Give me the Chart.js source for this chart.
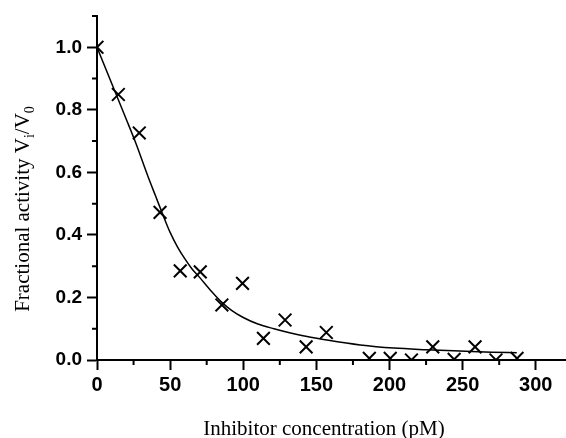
<!DOCTYPE html>
<html>
<head>
<meta charset="utf-8">
<script src="https://cdn.jsdelivr.net/npm/chart.js@4.4.1/dist/chart.umd.min.js"></script>
<style>
    html, body { margin: 0; padding: 0; background: #fff; overflow: hidden; }
    #wrap { width: 566px; height: 438px; position: relative; }
</style>
</head>
<body>
<div id="wrap"><canvas id="inhibitionChart"></canvas></div>
<script>
// Measured points (inhibitor concentration in pM, fractional activity)
const concentration = [0, 14.6, 28.9, 43.1, 56.9, 70.6, 85.4, 99.5, 113.8, 128.6, 143, 156.8, 186.2, 200.5, 215, 229.6, 244.2, 258.5, 272.8, 287.2];
const activity = [1.0, 0.849, 0.726, 0.472, 0.285, 0.282, 0.176, 0.245, 0.069, 0.128, 0.042, 0.088, 0.005, 0.005, 0.0, 0.042, 0.002, 0.042, 0.0, 0.005];

// Fitted curve
const fitX = [0, 10, 20, 26, 35, 40, 45, 50, 55, 60, 65, 70, 78, 85, 92, 100, 110, 121, 140, 157, 180, 203, 225, 248, 270, 287];
const fitY = [1.0, 0.885, 0.77, 0.70, 0.585, 0.525, 0.465, 0.408, 0.362, 0.324, 0.291, 0.265, 0.221, 0.186, 0.159, 0.136, 0.115, 0.100, 0.078, 0.064, 0.048, 0.038, 0.033, 0.029, 0.025, 0.023];

// Axis ticks
const xTicks = [0, 50, 100, 150, 200, 250, 300];
const yTicks = [0, 0.2, 0.4, 0.6, 0.8, 1.0];
const xMinor = [25, 75, 125, 175, 225, 275];
const yMinor = [0.1, 0.3, 0.5, 0.7, 0.9, 1.1];

const xTitle = 'Inhibitor concentration (pM)';
const yTitleParts = [['Fractional activity V', false], ['i', true], ['/V', false], ['0', true]];

// minor ticks + axis titles (y title needs subscripts)
const axisExtras = {
    id: 'axisExtras',
    afterDraw(chart) {
        const ctx = chart.ctx;
        const xs = chart.scales.x;
        const ys = chart.scales.y;
        const area = chart.chartArea;

        ctx.save();
        ctx.strokeStyle = '#000';
        ctx.lineWidth = 2;
        ctx.beginPath();
        xMinor.forEach(v => {
            const px = xs.getPixelForValue(v);
            ctx.moveTo(px, area.bottom);
            ctx.lineTo(px, area.bottom + 5);
        });
        yMinor.forEach(v => {
            const py = ys.getPixelForValue(v);
            ctx.moveTo(area.left, py);
            ctx.lineTo(area.left - 5, py);
        });
        ctx.stroke();

        ctx.fillStyle = '#000';
        ctx.textBaseline = 'alphabetic';
        ctx.font = '21px "Liberation Serif", "Times New Roman", serif';
        ctx.textAlign = 'center';
        ctx.fillText(xTitle, 324, 435);

        // y title, rotated
        const mainFont = '21px "Liberation Serif", "Times New Roman", serif';
        const subFont = '14px "Liberation Serif", "Times New Roman", serif';
        let total = 0;
        yTitleParts.forEach(([txt, sub]) => {
            ctx.font = sub ? subFont : mainFont;
            total += ctx.measureText(txt).width;
        });
        ctx.translate(29, 209);
        ctx.rotate(-Math.PI / 2);
        ctx.textAlign = 'left';
        let x = -total / 2;
        yTitleParts.forEach(([txt, sub]) => {
            ctx.font = sub ? subFont : mainFont;
            ctx.fillText(txt, x, sub ? 5 : 0);
            x += ctx.measureText(txt).width;
        });
        ctx.restore();
    }
};

const ctx = document.getElementById('inhibitionChart');

new Chart(ctx, {
    type: 'scatter',
    data: {
        datasets: [
            {
                label: 'Measured',
                data: concentration.map((c, i) => ({ x: c, y: activity[i] })),
                pointStyle: 'crossRot',
                pointRadius: 9,
                pointBorderWidth: 2,
                borderColor: '#000',
                backgroundColor: '#000',
                order: 1
            },
            {
                label: 'Fit',
                type: 'line',
                data: fitX.map((c, i) => ({ x: c, y: fitY[i] })),
                borderColor: '#000',
                borderWidth: 1.5,
                pointRadius: 0,
                fill: false,
                cubicInterpolationMode: 'monotone',
                order: 2
            }
        ]
    },
    options: {
        responsive: true,
        maintainAspectRatio: false,
        animation: false,
        layout: {
            autoPadding: false,
            padding: { top: 16, right: 1, bottom: 0, left: 0 }
        },
        plugins: {
            legend: { display: false },
            tooltip: { enabled: false }
        },
        scales: {
            x: {
                type: 'linear',
                min: 0,
                max: 320,
                afterBuildTicks: scale => {
                    scale.ticks = xTicks.map(v => ({ value: v }));
                },
                afterFit: scale => {
                    scale.height = 78;
                    scale.paddingLeft = 0;
                    scale.paddingRight = 0;
                },
                grid: {
                    drawOnChartArea: false,
                    drawTicks: true,
                    tickLength: 10,
                    tickWidth: 2,
                    tickColor: '#000'
                },
                border: { color: '#000', width: 2 },
                ticks: {
                    color: '#000',
                    padding: 3,
                    maxRotation: 0,
                    font: { family: '"Liberation Sans", Arial, sans-serif', size: 20, weight: 'bold' },
                    callback: value => String(value)
                }
            },
            y: {
                type: 'linear',
                min: 0,
                max: 1.1,
                afterBuildTicks: scale => {
                    scale.ticks = yTicks.map(v => ({ value: v }));
                },
                afterFit: scale => {
                    scale.width = 97;
                    scale.paddingTop = 0;
                    scale.paddingBottom = 0;
                },
                grid: {
                    drawOnChartArea: false,
                    drawTicks: true,
                    tickLength: 10,
                    tickWidth: 2,
                    tickColor: '#000'
                },
                border: { color: '#000', width: 2 },
                ticks: {
                    color: '#000',
                    padding: 5,
                    font: { family: '"Liberation Sans", Arial, sans-serif', size: 19, weight: 'bold' },
                    callback: value => value.toFixed(1)
                }
            }
        }
    },
    plugins: [axisExtras]
});
</script>
</body>
</html>
